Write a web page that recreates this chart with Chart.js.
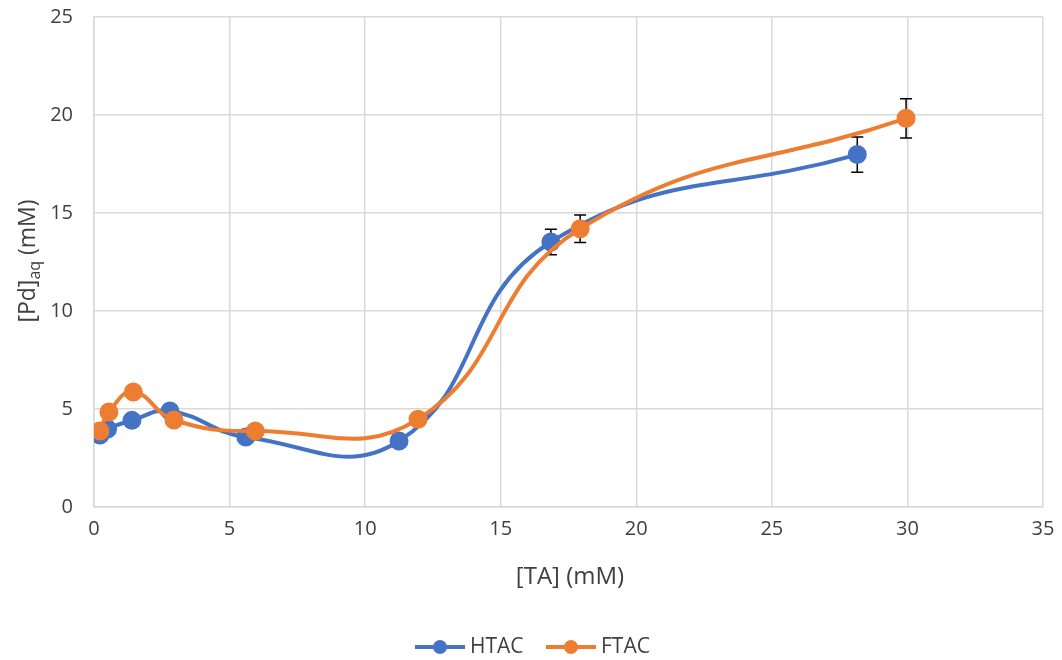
<!DOCTYPE html>
<html>
<head>
<meta charset="utf-8">
<script src="https://cdn.jsdelivr.net/npm/chart.js@4.4.0/dist/chart.umd.min.js"></script>
<style>
html,body{margin:0;padding:0;background:#fff;}
#wrap{width:1062px;height:660px;position:relative;}
</style>
</head>
<body>
<div id="wrap"><canvas id="c" width="1062" height="660"></canvas></div>
<script>
const seriesNames = ["HTAC", "FTAC"];
const htacX = [0.22, 0.5, 1.4, 2.8, 5.6, 11.25, 16.85, 28.15];
const htacY = [3.67, 3.98, 4.42, 4.9, 3.57, 3.37, 13.52, 17.98];
const htacErr = [0, 0, 0, 0, 0, 0, 0.65, 0.9];
const ftacX = [0.22, 0.55, 1.45, 2.95, 5.95, 11.95, 17.93, 29.95];
const ftacY = [3.88, 4.85, 5.87, 4.44, 3.88, 4.48, 14.2, 19.83];
const ftacErr = [0, 0, 0.3, 0, 0, 0, 0.7, 1.0];
const xTitle = "[TA] (mM)";
const yTitleMain = "[Pd]";
const yTitleSub = "aq";
const yTitleTail = " (mM)";

const colors = ["#4472C4", "#ED7D31"];
const FONT = "'Open Sans', 'Liberation Sans', Arial, sans-serif";
const TXT = "#404040";

function pts(xs, ys) { return xs.map((x, i) => ({x: x, y: ys[i]})); }
const errs = [htacErr, ftacErr];

const overlay = {
  id: 'overlay',
  beforeDatasetsDraw(chart) {
    const ctx = chart.ctx, xs = chart.scales.x, ys = chart.scales.y;
    ctx.save();
    ctx.strokeStyle = '#000';
    ctx.lineWidth = 1.5;
    chart.data.datasets.forEach((ds, di) => {
      ds.data.forEach((p, i) => {
        const e = errs[di][i];
        if (!e) return;
        const px = xs.getPixelForValue(p.x);
        const y1 = ys.getPixelForValue(p.y + e);
        const y2 = ys.getPixelForValue(p.y - e);
        ctx.beginPath();
        ctx.moveTo(px, y1); ctx.lineTo(px, y2);
        ctx.moveTo(px - 6, y1); ctx.lineTo(px + 6, y1);
        ctx.moveTo(px - 6, y2); ctx.lineTo(px + 6, y2);
        ctx.stroke();
      });
    });
    ctx.restore();
  },
  afterDraw(chart) {
    const ctx = chart.ctx, a = chart.chartArea;
    ctx.save();
    ctx.fillStyle = TXT;
    // x title
    ctx.font = "24px " + FONT;
    ctx.textAlign = 'center';
    ctx.textBaseline = 'middle';
    ctx.fillText(xTitle, 570, 577);
    // y title with subscript
    ctx.translate(27, 261);
    ctx.rotate(-Math.PI / 2);
    ctx.font = "23px " + FONT;
    const w1 = ctx.measureText(yTitleMain).width;
    const w3 = ctx.measureText(yTitleTail).width;
    ctx.font = "16px " + FONT;
    const w2 = ctx.measureText(yTitleSub).width;
    let x0 = -(w1 + w2 + w3) / 2;
    ctx.textAlign = 'left';
    ctx.textBaseline = 'alphabetic';
    ctx.font = "23px " + FONT;
    ctx.fillText(yTitleMain, x0, 8);
    ctx.font = "16px " + FONT;
    ctx.fillText(yTitleSub, x0 + w1, 13);
    ctx.font = "23px " + FONT;
    ctx.fillText(yTitleTail, x0 + w1 + w2, 8);
    ctx.restore();
    // legend
    ctx.save();
    const ly = 647;
    const items = [{x: 415}, {x: 546}];
    items.forEach((it, i) => {
      ctx.strokeStyle = colors[i];
      ctx.lineWidth = 4;
      ctx.beginPath();
      ctx.moveTo(it.x, ly); ctx.lineTo(it.x + 50, ly);
      ctx.stroke();
      ctx.fillStyle = colors[i];
      ctx.beginPath();
      ctx.arc(it.x + 25, ly, 7, 0, Math.PI * 2);
      ctx.fill();
      ctx.fillStyle = TXT;
      ctx.font = "21px " + FONT;
      ctx.textAlign = 'left';
      ctx.textBaseline = 'middle';
      ctx.fillText(seriesNames[i], it.x + 55, ly);
    });
    ctx.restore();
  }
};

new Chart(document.getElementById('c'), {
  type: 'line',
  data: {
    datasets: [
      {label: seriesNames[0], data: pts(htacX, htacY), borderColor: colors[0], backgroundColor: colors[0],
       borderWidth: 4, pointRadius: 7.5, pointHoverRadius: 7.5, tension: 0.45, order: 1, fill: false},
      {label: seriesNames[1], data: pts(ftacX, ftacY), borderColor: colors[1], backgroundColor: colors[1],
       borderWidth: 4, pointRadius: 7.5, pointHoverRadius: 7.5, tension: 0.45, order: 0, fill: false}
    ]
  },
  options: {
    responsive: false,
    animation: false,
    devicePixelRatio: 1,
    layout: {padding: {left: 0, right: 19, top: 17, bottom: 0}},
    plugins: {legend: {display: false}, tooltip: {enabled: false}},
    scales: {
      x: {
        type: 'linear', min: 0, max: 35,
        ticks: {stepSize: 5, color: TXT, font: {family: FONT, size: 20}, padding: 10, maxRotation: 0},
        grid: {color: '#d9d9d9', lineWidth: 1.5, drawTicks: false},
        border: {color: '#d9d9d9', width: 1.5},
        afterFit(s) { s.height = 153; s.paddingLeft = 0; s.paddingRight = 0; }
      },
      y: {
        min: 0, max: 25,
        ticks: {stepSize: 5, color: TXT, font: {family: FONT, size: 20}, padding: 21},
        grid: {color: '#d9d9d9', lineWidth: 1.5, drawTicks: false},
        border: {color: '#d9d9d9', width: 1.5},
        afterFit(s) { s.width = 94; s.paddingTop = 0; s.paddingBottom = 0; }
      }
    }
  },
  plugins: [overlay]
});
</script>
</body>
</html>
